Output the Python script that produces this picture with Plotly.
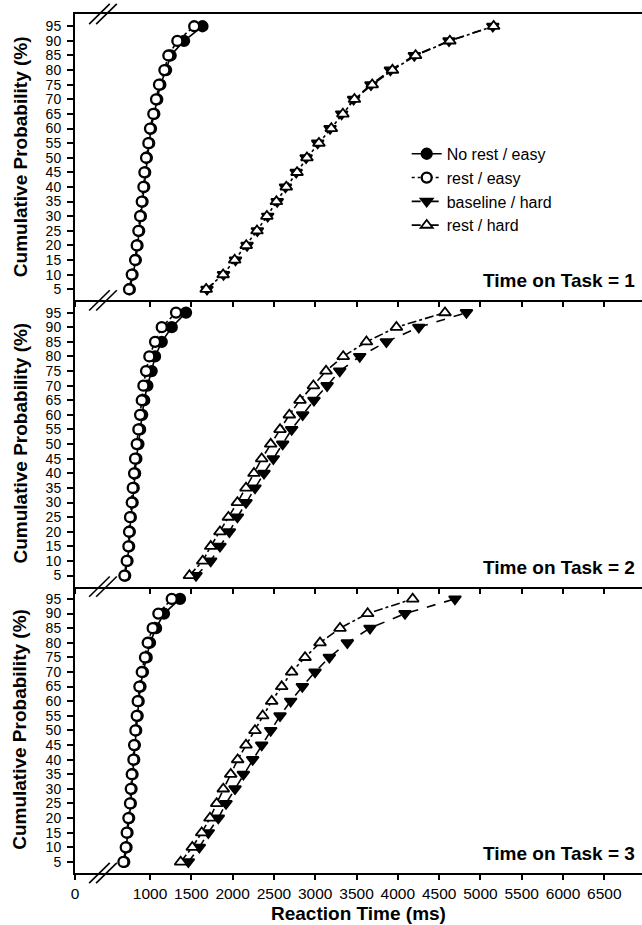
import plotly.graph_objects as go
from plotly.subplots import make_subplots

# Cumulative probability levels (%)
PROB = [5, 10, 15, 20, 25, 30, 35, 40, 45, 50, 55, 60, 65, 70, 75, 80, 85, 90, 95]

# Reaction-time quantiles (ms), Time on Task = 1
tot1_norest_easy = [756, 789, 829, 849, 869, 890, 910, 930, 942, 962, 990, 1012, 1052, 1088, 1125, 1195, 1250, 1412, 1635]
tot1_rest_easy = [746, 779, 819, 839, 859, 880, 900, 920, 932, 952, 980, 1000, 1040, 1073, 1109, 1174, 1222, 1331, 1535]
tot1_baseline_hard = [1690, 1890, 2035, 2175, 2300, 2425, 2540, 2640, 2770, 2890, 3030, 3180, 3320, 3465, 3675, 3910, 4200, 4620, 5150]
tot1_rest_hard = [1680, 1885, 2025, 2165, 2295, 2415, 2530, 2650, 2780, 2900, 3045, 3195, 3335, 3475, 3690, 3935, 4215, 4630, 5160]

# Time on Task = 2
tot2_norest_easy = [700, 728, 748, 756, 768, 790, 803, 820, 835, 860, 880, 905, 930, 968, 1020, 1061, 1142, 1263, 1436]
tot2_rest_easy = [690, 718, 738, 746, 758, 779, 791, 807, 819, 839, 859, 880, 900, 920, 952, 992, 1061, 1142, 1315]
tot2_baseline_hard = [1557, 1735, 1847, 1961, 2058, 2162, 2271, 2380, 2493, 2606, 2715, 2848, 2985, 3144, 3297, 3539, 3862, 4254, 4831]
tot2_rest_hard = [1477, 1638, 1735, 1847, 1949, 2058, 2162, 2259, 2352, 2461, 2574, 2687, 2816, 2978, 3131, 3339, 3620, 3983, 4571]

# Time on Task = 3
tot3_norest_easy = [688, 716, 728, 748, 768, 777, 789, 809, 817, 833, 851, 863, 885, 915, 960, 1000, 1073, 1169, 1363]
tot3_rest_easy = [678, 706, 718, 738, 758, 767, 779, 799, 807, 823, 839, 851, 871, 900, 939, 972, 1032, 1101, 1263]
tot3_baseline_hard = [1464, 1597, 1706, 1827, 1920, 2029, 2130, 2243, 2352, 2461, 2574, 2703, 2844, 2998, 3171, 3389, 3663, 4087, 4692]
tot3_rest_hard = [1371, 1512, 1626, 1726, 1807, 1887, 1977, 2061, 2162, 2271, 2364, 2473, 2594, 2715, 2877, 3058, 3300, 3635, 4180]

PANELS = [
    ("Time on Task = 1", tot1_norest_easy, tot1_rest_easy, tot1_baseline_hard, tot1_rest_hard),
    ("Time on Task = 2", tot2_norest_easy, tot2_rest_easy, tot2_baseline_hard, tot2_rest_hard),
    ("Time on Task = 3", tot3_norest_easy, tot3_rest_easy, tot3_baseline_hard, tot3_rest_hard),
]

SERIES_NAMES = ["No rest / easy", "rest / easy", "baseline / hard", "rest / hard"]

X_TICKS = [1000, 1500, 2000, 2500, 3000, 3500, 4000, 4500, 5000, 5500, 6000, 6500]
Y_TICKS = [5, 10, 15, 20, 25, 30, 35, 40, 45, 50, 55, 60, 65, 70, 75, 80, 85, 90, 95]

X_START = 92      # left end of the broken axis, labelled "0"
X_END = 6956
Y_RANGE = [1.2, 99.2]

FONT = "Liberation Sans, Arial, sans-serif"

styles = [
    dict(symbol="circle", size=10, color="black", line=dict(color="black", width=2.3), dash="solid"),
    dict(symbol="circle", size=10, color="white", line=dict(color="black", width=2.3), dash="dot"),
    dict(symbol="triangle-down", size=10.5, color="black", line=dict(color="black", width=1.8), dash="dash"),
    dict(symbol="triangle-up", size=10.5, color="white", line=dict(color="black", width=1.8), dash="dashdot"),
]

fig = make_subplots(rows=3, cols=1, shared_xaxes=True, vertical_spacing=0)

for row, panel in enumerate(PANELS, start=1):
    label, *series = panel
    for name, xs, st in zip(SERIES_NAMES, series, styles):
        fig.add_trace(
            go.Scatter(
                x=xs, y=PROB, name=name, mode="lines+markers",
                line=dict(color="black", width=1.6, dash=st["dash"]),
                marker=dict(symbol=st["symbol"], size=st["size"], color=st["color"], line=st["line"]),
                showlegend=(row == 1),
                cliponaxis=False,
            ),
            row=row, col=1,
        )
    yref_dom = f"y{'' if row == 1 else row} domain"
    fig.add_annotation(
        text="<b>" + label + "</b>", xref="paper", x=1, xanchor="right", xshift=-5,
        yref=yref_dom, y=0.025, yanchor="bottom",
        showarrow=False, font=dict(family=FONT, size=19, color="black"),
    )
    fig.add_annotation(
        text="<b>Cumulative Probability (%)</b>", textangle=-90,
        xref="paper", x=0, xanchor="center", xshift=-55,
        yref=yref_dom, y=0.5, yanchor="middle",
        showarrow=False, font=dict(family=FONT, size=19, color="black"),
    )

for row in range(1, 4):
    fig.update_xaxes(
        range=[X_START, X_END], showline=True, linecolor="black", linewidth=2,
        mirror=(row == 1), ticks="outside", ticklen=5, tickwidth=1.5, tickcolor="black",
        tickvals=[X_START] + X_TICKS, ticktext=["0"] + [str(v) for v in X_TICKS],
        showticklabels=(row == 3), showgrid=False, zeroline=False,
        tickfont=dict(family=FONT, size=15.5, color="black"),
        row=row, col=1,
    )
    fig.update_yaxes(
        range=Y_RANGE, showline=True, linecolor="black", linewidth=2,
        ticks="outside", ticklen=6, tickwidth=1.5, tickcolor="black",
        tickvals=Y_TICKS, showgrid=False, zeroline=False,
        tickfont=dict(family=FONT, size=14, color="black"),
        ticklabelstandoff=3,
        row=row, col=1,
    )

# "//" axis-break marks on each horizontal axis line, near the left edge
for yb in [0, 1 / 3, 2 / 3, 1]:
    for xc in (388, 473):
        fig.add_shape(
            type="line", xref="x", yref="paper",
            x0=xc - 125, x1=xc + 125, y0=yb - 0.0118, y1=yb + 0.0118,
            line=dict(color="black", width=1.6),
        )

fig.add_annotation(
    text="<b>Reaction Time (ms)</b>", xref="paper", x=0.5, xanchor="center",
    yref="paper", y=-0.047, yanchor="middle", showarrow=False,
    font=dict(family=FONT, size=19, color="black"),
)

fig.update_layout(
    width=642, height=925,
    margin=dict(l=75, r=0, t=14, b=52),
    paper_bgcolor="white", plot_bgcolor="white",
    font=dict(family=FONT, color="black"),
    showlegend=True,
    legend=dict(
        x=0.585, xanchor="left", y=0.857, yanchor="top",
        bgcolor="rgba(0,0,0,0)", borderwidth=0,
        font=dict(family=FONT, size=16, color="black"),
        tracegroupgap=0, itemwidth=30,
    ),
)

fig.write_html("out.html")
